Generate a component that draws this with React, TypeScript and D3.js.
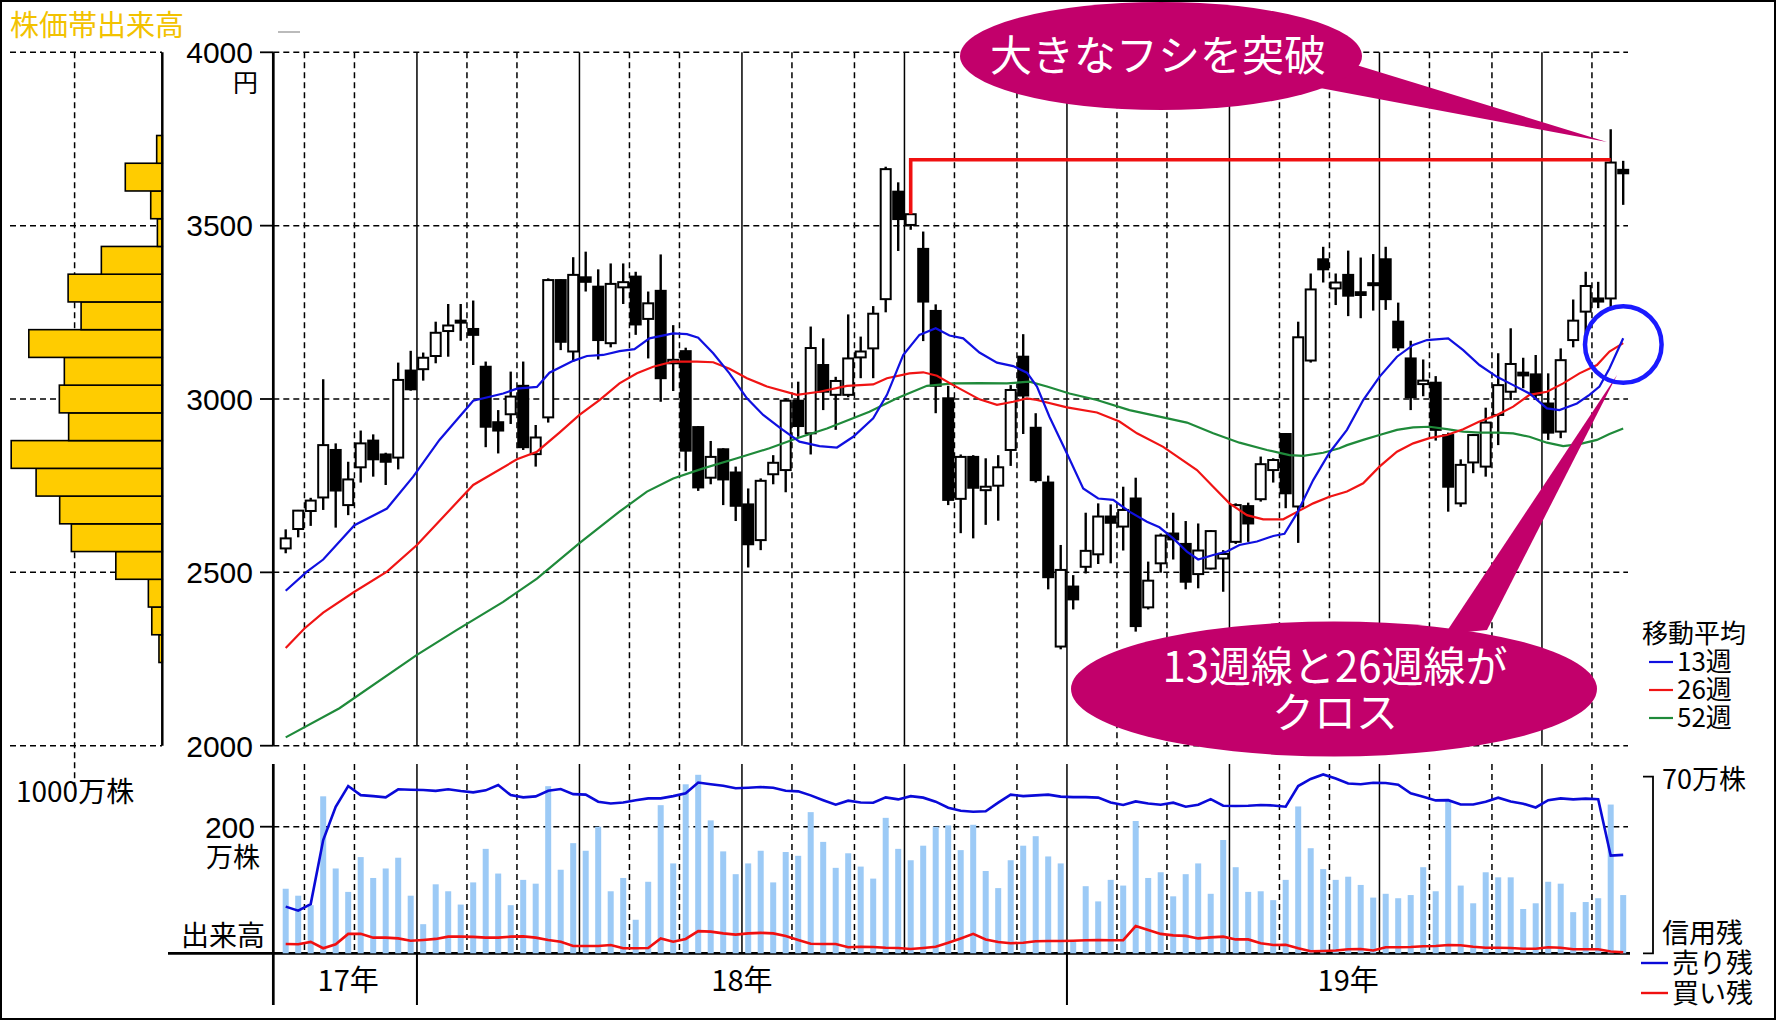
import { useRef, useEffect } from 'react';
import * as d3 from 'd3';

const W = 1776;
const H = 1020;

// weekly candles: [open, high, low, close]
const candles: [number, number, number, number][] = [
  [2569, 2624, 2555, 2598], [2625, 2680, 2601, 2678], [2677, 2715, 2634, 2707], [2716, 3057, 2680, 2867],
  [2853, 2872, 2629, 2736], [2694, 2819, 2665, 2768], [2803, 2909, 2759, 2872], [2880, 2898, 2776, 2826],
  [2840, 2845, 2752, 2819], [2831, 3105, 2797, 3055], [3082, 3139, 3024, 3028], [3086, 3134, 3053, 3119],
  [3124, 3223, 3103, 3191], [3196, 3274, 3122, 3212], [3222, 3274, 3168, 3226], [3202, 3284, 3098, 3185],
  [3093, 3108, 2861, 2920], [2933, 2968, 2843, 2909], [2956, 3079, 2928, 3007], [3038, 3108, 2853, 2861],
  [2841, 2925, 2805, 2889], [2947, 3348, 2932, 3343], [3343, 3345, 3141, 3165], [3137, 3409, 3108, 3358],
  [3351, 3425, 3310, 3338], [3324, 3374, 3114, 3170], [3161, 3391, 3149, 3332], [3322, 3391, 3274, 3337],
  [3353, 3367, 3185, 3215], [3231, 3310, 3117, 3276], [3312, 3417, 2992, 3060], [3103, 3213, 3023, 3113],
  [3138, 3148, 2792, 2851], [2919, 2922, 2735, 2745], [2773, 2879, 2754, 2833], [2855, 2858, 2694, 2768],
  [2788, 2805, 2648, 2692], [2696, 2742, 2514, 2581], [2593, 2771, 2564, 2764], [2783, 2838, 2754, 2816],
  [2795, 3002, 2731, 2995], [2995, 3050, 2891, 2922], [2901, 3209, 2840, 3147], [3098, 3175, 2968, 3021],
  [3012, 3064, 2911, 3052], [3012, 3244, 3005, 3117], [3120, 3180, 3060, 3137], [3146, 3268, 3060, 3246],
  [3288, 3670, 3250, 3663], [3598, 3625, 3427, 3519], [3502, 3690, 3488, 3533], [3433, 3483, 3167, 3281],
  [3254, 3273, 2959, 3038], [3002, 3038, 2694, 2709], [2712, 2840, 2613, 2833], [2833, 2838, 2598, 2744],
  [2737, 2829, 2637, 2747], [2750, 2838, 2649, 2803], [2853, 3040, 2807, 3026], [3122, 3187, 2899, 3010],
  [2917, 2959, 2759, 2766], [2759, 2779, 2451, 2486], [2286, 2579, 2278, 2507], [2459, 2492, 2393, 2422],
  [2516, 2672, 2497, 2562], [2552, 2699, 2524, 2661], [2661, 2696, 2526, 2643], [2632, 2747, 2563, 2680],
  [2713, 2773, 2329, 2345], [2399, 2531, 2393, 2476], [2526, 2612, 2499, 2606], [2612, 2672, 2537, 2595],
  [2582, 2648, 2451, 2473], [2495, 2641, 2454, 2563], [2511, 2622, 2508, 2619], [2540, 2564, 2444, 2553],
  [2588, 2699, 2582, 2694], [2691, 2701, 2588, 2641], [2711, 2834, 2704, 2812], [2795, 2829, 2759, 2824],
  [2899, 2902, 2685, 2728], [2690, 3223, 2585, 3178], [3111, 3362, 3105, 3316], [3403, 3439, 3336, 3374],
  [3319, 3362, 3271, 3336], [3358, 3428, 3239, 3298], [3308, 3408, 3233, 3300], [3334, 3418, 3255, 3330],
  [3403, 3439, 3257, 3288], [3223, 3278, 3139, 3149], [3117, 3168, 2968, 3005], [3043, 3114, 3008, 3053],
  [3047, 3066, 2880, 2911], [2896, 2903, 2675, 2747], [2699, 2826, 2689, 2810], [2817, 2899, 2786, 2896],
  [2805, 2975, 2776, 2932], [2954, 3132, 2867, 3040], [3021, 3204, 2997, 3101], [3076, 3119, 3031, 3068],
  [3071, 3127, 2997, 3012], [2987, 3074, 2882, 2903], [2906, 3146, 2887, 3112], [3170, 3287, 3149, 3226],
  [3252, 3367, 3161, 3326], [3290, 3338, 3262, 3281], [3290, 3778, 3257, 3682], [3661, 3687, 3560, 3651],
];

// weekly volume, 万株
const volumes = [
  102, 91, 76, 248, 134, 97, 152, 119, 134, 151, 91, 46, 109, 98, 77, 112, 165, 126, 76, 116, 110, 264, 132, 174,
  162, 200, 98, 119, 53, 113, 234, 142, 267, 282, 210, 161, 125, 142, 162, 112, 160, 154, 223, 176, 135, 158, 137, 118,
  214, 165, 147, 170, 200, 202, 163, 203, 130, 103, 147, 170, 185, 153, 142, 18, 106, 82, 116, 107, 209, 119, 128, 90,
  125, 142, 94, 179, 136, 97, 98, 84, 116, 232, 166, 133, 116, 121, 108, 88, 94, 87, 92, 136, 98, 240, 107, 79,
  128, 120, 120, 70, 79, 113, 110, 65, 81, 87, 235, 92,
];

// margin balance, 万株
const sellRemain = [
  18.5, 16.9, 19.5, 44.9, 58.1, 66.3, 62.7, 62.3, 61.8, 65, 64.8, 64.7, 64.4, 65, 64.3, 63.8, 64.6, 66.7, 62.7, 61.8,
  62.2, 64.4, 65.1, 63.1, 62.9, 60.1, 59.4, 59.8, 60.7, 61.4, 61.4, 62.3, 63.4, 67.7, 67, 66.4, 65.4, 65.6, 65.9, 65.6,
  64.4, 64.2, 62.6, 60.7, 58.9, 60.5, 59.8, 59.7, 61.8, 61, 62.3, 61.7, 60.1, 57.7, 56.5, 56.1, 56.3, 59.7, 62.9, 62.3,
  62.6, 62.9, 62.1, 61.9, 61.9, 61.7, 59.8, 58.8, 60.2, 59.4, 58.9, 59.7, 58.1, 58.9, 61.1, 58.5, 58.4, 58.5, 58.8, 58.6,
  58.1, 66.3, 69.1, 70.9, 69.3, 67.3, 67, 67.6, 67.5, 66.8, 63.4, 62.1, 60.6, 60.7, 59, 59, 60.1, 61.7, 60.2, 59.3,
  57.8, 60.7, 61.4, 61, 61.3, 61.1, 38.7, 39,
];
const buyRemain = [
  3.7, 3.6, 4.5, 2.0, 3.6, 7.7, 7.7, 6.2, 6.2, 5.9, 5.0, 5.3, 5.7, 6.6, 6.6, 6.5, 6.2, 6.2, 6.6, 6.7,
  6.2, 5.3, 4.6, 2.9, 2.9, 2.9, 3.3, 2.0, 2.0, 2.1, 5.9, 4.6, 5.7, 8.8, 8.6, 7.9, 7.4, 7.9, 8.1, 7.9,
  6.9, 5.3, 3.8, 3.7, 3.7, 2.4, 2.6, 2.5, 2.2, 2.1, 1.7, 2.1, 2.6, 4.2, 5.9, 7.7, 5.5, 4.5, 4.0, 4.2,
  4.8, 4.9, 4.9, 5.0, 5.2, 5.3, 5.2, 5.2, 10.8, 9.2, 7.7, 7.1, 6.9, 5.9, 6.3, 6.6, 5.5, 5.5, 4.0, 3.3,
  3.4, 2.0, 0.8, 0.9, 1.1, 1.6, 1.7, 1.1, 2.4, 2.4, 2.5, 2.8, 2.9, 3.3, 3.2, 2.6, 2.2, 2.2, 2.1, 1.8,
  1.8, 2.4, 2.2, 1.6, 1.6, 1.6, 0.7, 0.4,
];

// moving averages: [week, price]
const ma13: [number, number][] = [
  [0, 2447], [1.7, 2502], [3, 2537], [5.5, 2636], [8.1, 2684], [10.2, 2776], [12.3, 2882], [15, 2995], [17.4, 3016],
  [18.5, 3030], [20.1, 3035], [21.1, 3076], [23, 3110], [24.1, 3124], [25.4, 3127], [26.7, 3138], [27.9, 3144],
  [29.1, 3175], [31, 3189], [32.1, 3187], [33, 3177], [34.2, 3132], [35.5, 3074], [36.9, 3002], [38.2, 2954],
  [39.6, 2915], [41.1, 2877], [42.7, 2864], [44.1, 2860], [45.4, 2891], [47, 2944], [48.1, 3012], [49.4, 3127],
  [50.7, 3185], [52, 3204], [53.1, 3183], [54.2, 3175], [55.5, 3134], [56.9, 3105], [58.2, 3095], [59.3, 3076],
  [60.1, 3036], [61.1, 2949], [62.5, 2843], [63.8, 2742], [65, 2713], [66.2, 2709], [67.5, 2675], [68.9, 2646],
  [69.9, 2630], [71, 2598], [72.1, 2560], [73, 2537], [74.2, 2550], [75.3, 2560], [76.3, 2579], [77.7, 2589],
  [79, 2605], [79.9, 2611], [80.9, 2670], [82.2, 2766], [83.5, 2845], [84.9, 2911], [86.2, 2997], [87.5, 3064],
  [88.9, 3122], [90.2, 3156], [91.3, 3170], [93, 3175], [94.2, 3141], [95.5, 3098], [96.9, 3064], [98.2, 3040],
  [99.5, 3016], [100.9, 2973], [101.9, 2968], [103.3, 2987], [104.3, 3012], [105.1, 3036], [105.9, 3088], [107, 3175],
];
const ma26: [number, number][] = [
  [0, 2282], [1.5, 2338], [3, 2384], [5.5, 2444], [8.1, 2502], [10.5, 2579], [15, 2752], [18.5, 2826], [20.1, 2848],
  [21.9, 2903], [23.5, 2954], [25.1, 2997], [26.7, 3045], [28.1, 3074], [29.4, 3093], [31, 3108], [32.9, 3108],
  [34.2, 3106], [35.5, 3087], [36.9, 3060], [38.5, 3036], [40.9, 3012], [42.7, 3021], [44.9, 3038], [47, 3042],
  [48.1, 3060], [49.9, 3074], [51, 3077], [52.1, 3067], [53.4, 3040], [55.5, 2999], [56.9, 2983], [58.2, 2992],
  [59.3, 3002], [60.1, 2997], [62.5, 2976], [64.9, 2961], [66.7, 2935], [68.1, 2901], [70.2, 2862], [72.9, 2795],
  [74.2, 2747], [75.5, 2699], [76.9, 2665], [78.2, 2653], [79.8, 2653], [81.1, 2678], [82.2, 2699], [83.5, 2718],
  [84.9, 2733], [86.2, 2757], [87.5, 2805], [88.9, 2848], [90.2, 2872], [91.5, 2887], [92.9, 2896], [94.2, 2913],
  [95.5, 2935], [96.9, 2954], [98.2, 2978], [99.5, 3012], [100.9, 3021], [102.2, 3045], [103.5, 3074], [104.9, 3098],
  [105.9, 3137], [107, 3161],
];
const ma52: [number, number][] = [
  [0, 2024], [4.3, 2108], [10.5, 2262], [13.7, 2334], [17.4, 2415], [20.1, 2482], [23.5, 2584], [26.7, 2675],
  [28.9, 2733], [31, 2771], [33.4, 2800], [36.1, 2829], [38.7, 2858], [40.9, 2887], [43.3, 2915], [46.7, 2963],
  [48.9, 3002], [51.3, 3038], [53.4, 3045], [55.5, 3046], [57.7, 3045], [59.5, 3050], [60.9, 3036], [62.7, 3016],
  [64.9, 2997], [67.5, 2968], [69.9, 2949], [72.1, 2932], [74.2, 2901], [76.3, 2874], [78.5, 2853], [80.3, 2838],
  [81.4, 2836], [83, 2845], [84.3, 2858], [84.9, 2867], [86.2, 2882], [87.5, 2896], [88.9, 2911], [90.2, 2918],
  [91.5, 2920], [92.9, 2913], [94.2, 2906], [95.5, 2903], [96.9, 2903], [98.2, 2901], [99.5, 2891], [100.9, 2874],
  [102.2, 2864], [103.5, 2870], [104.9, 2882], [105.9, 2899], [107, 2915],
];

// price-band volume (株価帯出来高): bucket low price, 万株
const histPrices = [2240, 2320, 2400, 2480, 2560, 2640, 2720, 2800, 2880, 2960, 3040, 3120, 3200, 3280, 3360, 3440, 3520, 3600, 3680];
const histVolumes = [38, 120, 159, 530, 1037, 1170, 1439, 1723, 1068, 1174, 1117, 1522, 926, 1074, 695, 56, 132, 422, 64];
const histStep = 80;

const priceTicks = [4000, 3500, 3000, 2500, 2000];
const monthLines = [1.5, 5.5, 14.5, 18.5, 27.5, 31.5, 40.5, 45.5, 53.5, 58.5, 66.5, 70.5, 79.5, 83.5, 91.5, 96.5, 104.5];
const quarterLines = [10.5, 23.5, 36.5, 49.5, 62.5, 75.5, 87.5, 100.5];
const yearLines = [10.5, 62.5];
const yearLabels: [string, number][] = [['17年', 5], ['18年', 36.5], ['19年', 85]];
const resistance = { from: 50, to: 106, price: 3690 };

const JP = '"Noto Sans CJK JP", "Noto Sans", sans-serif';
const NUM = '"Liberation Sans", Arial, sans-serif';

export default function App() {
  const svgRef = useRef<SVGSVGElement>(null);

  useEffect(() => {
    if (!svgRef.current) return;
    const svg = d3.select(svgRef.current);
    svg.selectAll('*').remove();

    const x = d3.scaleLinear().domain([0, 107]).range([285.7, 1623.2]);
    const yP = d3.scaleLinear().domain([2000, 4000]).range([745.7, 52.3]);
    const yV = d3.scaleLinear().domain([0, 200]).range([953.3, 826.7]);
    const yM = d3.scaleLinear().domain([0, 70]).range([953.3, 776.7]);
    const xH = d3.scaleLinear().domain([0, 1000]).range([162.3, 74.6]);

    const plotL = 273.3;
    const plotR = 1628;
    const volTop = 764;

    svg.append('rect').attr('width', W).attr('height', H).attr('fill', '#fff');

    const grid = svg.append('g').attr('stroke', '#000').attr('stroke-width', 1.5);

    // price panel horizontal grid
    grid.selectAll('.hg').data(priceTicks).join('line')
      .attr('x1', plotL).attr('x2', plotR)
      .attr('y1', (d) => yP(d)).attr('y2', (d) => yP(d))
      .attr('stroke-dasharray', '6,4');
    // histogram horizontal grid
    grid.selectAll('.hh').data(priceTicks).join('line')
      .attr('x1', 10).attr('x2', 162)
      .attr('y1', (d) => yP(d)).attr('y2', (d) => yP(d))
      .attr('stroke-dasharray', '6,4');
    grid.append('line')
      .attr('x1', xH(1000)).attr('x2', xH(1000))
      .attr('y1', yP(4000)).attr('y2', 786)
      .attr('stroke-dasharray', '6,4');

    // month and quarter lines in both panels
    const panels: [number, number][] = [[yP(4000), yP(2000)], [volTop, yV(0)]];
    panels.forEach(([t, b]) => {
      grid.append('g').selectAll('line').data(monthLines).join('line')
        .attr('x1', (d) => x(d)).attr('x2', (d) => x(d))
        .attr('y1', t).attr('y2', b)
        .attr('stroke-dasharray', '6,4');
      grid.append('g').selectAll('line').data(quarterLines).join('line')
        .attr('x1', (d) => x(d)).attr('x2', (d) => x(d))
        .attr('y1', t).attr('y2', b);
    });
    grid.append('line')
      .attr('x1', plotL).attr('x2', plotR)
      .attr('y1', yV(200)).attr('y2', yV(200))
      .attr('stroke-dasharray', '6,4');

    // price-band volume histogram
    svg.append('g').selectAll('rect').data(histPrices).join('rect')
      .attr('x', (_, i) => xH(histVolumes[i]))
      .attr('width', (_, i) => xH(0) - xH(histVolumes[i]))
      .attr('y', (d) => yP(d + histStep))
      .attr('height', (d) => yP(d) - yP(d + histStep))
      .attr('fill', '#ffcc00')
      .attr('stroke', '#000')
      .attr('stroke-width', 1.6);

    // axes
    const axes = svg.append('g').attr('stroke', '#000');
    axes.append('line').attr('x1', xH(0)).attr('x2', xH(0)).attr('y1', yP(4000)).attr('y2', yP(2000)).attr('stroke-width', 2.5);
    axes.append('line').attr('x1', plotL).attr('x2', plotL).attr('y1', yP(4000)).attr('y2', yP(2000)).attr('stroke-width', 2.7);
    axes.append('line').attr('x1', plotL).attr('x2', plotL).attr('y1', volTop).attr('y2', 1005).attr('stroke-width', 2.7);
    axes.append('line').attr('x1', 168).attr('x2', 1630).attr('y1', yV(0)).attr('y2', yV(0)).attr('stroke-width', 2.7);
    axes.selectAll('.yl').data(yearLines).join('line')
      .attr('x1', (d) => x(d)).attr('x2', (d) => x(d))
      .attr('y1', yV(0)).attr('y2', 1005).attr('stroke-width', 2);
    axes.selectAll('.pt').data(priceTicks).join('line')
      .attr('x1', 260).attr('x2', plotL)
      .attr('y1', (d) => yP(d)).attr('y2', (d) => yP(d)).attr('stroke-width', 1.8);
    axes.append('line').attr('x1', 260).attr('x2', plotL).attr('y1', yV(200)).attr('y2', yV(200)).attr('stroke-width', 1.8);

    // price labels
    svg.append('g').selectAll('text').data(priceTicks).join('text')
      .attr('x', 253).attr('y', (d) => yP(d))
      .attr('dy', '0.36em')
      .attr('text-anchor', 'end')
      .attr('font-family', NUM).attr('font-size', 30)
      .text((d) => d);

    // volume bars
    svg.append('g').selectAll('rect').data(volumes).join('rect')
      .attr('x', (_, i) => x(i) - 3)
      .attr('width', 6)
      .attr('y', (d) => yV(d))
      .attr('height', (d) => yV(0) - yV(d))
      .attr('fill', '#9ccaf6');

    const lineIdx = d3.line<number>().x((_, i) => x(i)).y((d) => yM(d));
    svg.append('path').attr('d', lineIdx(sellRemain)).attr('fill', 'none').attr('stroke', '#0a0ad8').attr('stroke-width', 2.6);
    svg.append('path').attr('d', lineIdx(buyRemain)).attr('fill', 'none').attr('stroke', '#f01010').attr('stroke-width', 2.6);

    // candles
    const cg = svg.append('g');
    cg.selectAll('line').data(candles).join('line')
      .attr('x1', (_, i) => x(i)).attr('x2', (_, i) => x(i))
      .attr('y1', (d) => yP(d[1])).attr('y2', (d) => yP(d[2]))
      .attr('stroke', '#000').attr('stroke-width', 2.4);
    cg.selectAll('rect').data(candles).join('rect')
      .attr('x', (_, i) => x(i) - 5)
      .attr('width', 10)
      .attr('y', (d) => yP(Math.max(d[0], d[3])))
      .attr('height', (d) => Math.max(2, Math.abs(yP(d[0]) - yP(d[3]))))
      .attr('fill', (d) => (d[3] >= d[0] ? '#fff' : '#000'))
      .attr('stroke', '#000').attr('stroke-width', 2);

    // moving averages
    const maLine = d3.line<[number, number]>().x((d) => x(d[0])).y((d) => yP(d[1]));
    const maSeries: [[number, number][], string][] = [[ma52, '#1f8a3a'], [ma26, '#f01414'], [ma13, '#1010e0']];
    maSeries.forEach(([data, color]) => {
      svg.append('path').attr('d', maLine(data)).attr('fill', 'none').attr('stroke', color).attr('stroke-width', 2.2);
    });

    // resistance line
    const r0 = candles[resistance.from];
    svg.append('path')
      .attr('d', `M${x(resistance.from)},${yP(Math.max(r0[0], r0[3]))}V${yP(resistance.price)}H${x(resistance.to)}`)
      .attr('fill', 'none').attr('stroke', '#f01010').attr('stroke-width', 3.6);

    // multi-line text helper: one <text>, one <tspan> per row
    type Row = { s: string; x: number; y: number; size: number; fill?: string; family?: string };
    const block = (rows: Row[], anchor = 'start') => {
      const t = svg.append('text').attr('text-anchor', anchor);
      rows.forEach((r) => {
        t.append('tspan')
          .attr('x', r.x).attr('y', r.y).attr('dy', '0.36em')
          .attr('font-family', r.family ?? JP).attr('font-size', r.size)
          .attr('fill', r.fill ?? '#000').text(r.s);
      });
      return t;
    };

    // callouts
    const mag = '#c2006b';
    svg.append('path').attr('d', 'M1340,60L1607,142L1320,88Z').attr('fill', mag);
    svg.append('ellipse').attr('cx', 1161).attr('cy', 56).attr('rx', 201).attr('ry', 54).attr('fill', mag);
    block([{ s: '大きなフシを突破', x: 1158, y: 56, size: 42, fill: '#fff' }], 'middle');

    svg.append('path').attr('d', 'M1445,634L1617,375L1487,630Z').attr('fill', mag);
    svg.append('ellipse').attr('cx', 1334).attr('cy', 689).attr('rx', 263).attr('ry', 67.5).attr('fill', mag);
    block([
      { s: '13週線と26週線が', x: 1335, y: 667, size: 42, fill: '#fff' },
      { s: 'クロス', x: 1335, y: 713, size: 42, fill: '#fff' },
    ], 'middle');

    svg.append('circle').attr('cx', 1623.3).attr('cy', 344.5).attr('r', 38.3)
      .attr('fill', 'none').attr('stroke', '#1a1aff').attr('stroke-width', 4.5);

    // labels
    block([{ s: '株価帯出来高', x: 10, y: 26, size: 29, fill: '#f2c200' }]);
    block([{ s: '円', x: 258, y: 83, size: 25 }], 'end');
    block([{ s: '1000万株', x: 16, y: 792, size: 28 }]);
    block([
      { s: '200', x: 255, y: yV(200), size: 30, family: NUM },
      { s: '万株', x: 260, y: 857, size: 27 },
    ], 'end');
    block([{ s: '出来高', x: 265, y: 936, size: 28 }], 'end');
    yearLabels.forEach(([s, w]) => block([{ s, x: x(w), y: 981, size: 29 }], 'middle'));

    // legend: moving averages
    const legendMA: [string, string, number][] = [['13週', '#1010e0', 662], ['26週', '#f01414', 690], ['52週', '#1f8a3a', 718]];
    legendMA.forEach(([, c, ly]) => {
      svg.append('line').attr('x1', 1649).attr('x2', 1673).attr('y1', ly).attr('y2', ly).attr('stroke', c).attr('stroke-width', 2.2);
    });
    block([
      { s: '移動平均', x: 1642, y: 634, size: 26 },
      ...legendMA.map(([s, , ly]) => ({ s, x: 1677, y: ly, size: 26 })),
    ]);

    // legend: margin balance
    block([{ s: '70万株', x: 1662, y: 779, size: 27 }]);
    svg.append('path').attr('d', `M1643,${yM(70)}H1653V${yM(0)}H1643`).attr('fill', 'none').attr('stroke', '#000').attr('stroke-width', 1.8);
    const legendMargin: [string, string, number][] = [['売り残', '#0a0ad8', 963], ['買い残', '#f01010', 993]];
    legendMargin.forEach(([, c, ly]) => {
      svg.append('line').attr('x1', 1641).attr('x2', 1668).attr('y1', ly).attr('y2', ly).attr('stroke', c).attr('stroke-width', 2.4);
    });
    block([
      { s: '信用残', x: 1662, y: 933, size: 27 },
      ...legendMargin.map(([s, , ly]) => ({ s, x: 1672, y: ly, size: 27 })),
    ]);

    svg.append('line').attr('x1', 278).attr('x2', 300).attr('y1', 32).attr('y2', 32).attr('stroke', '#bbb').attr('stroke-width', 2);

    // outer frame
    svg.append('rect').attr('x', 1).attr('y', 1).attr('width', W - 2).attr('height', H - 2)
      .attr('fill', 'none').attr('stroke', '#000').attr('stroke-width', 2);
  }, []);

  return (
    <svg
      ref={svgRef}
      width={W}
      height={H}
      viewBox={`0 0 ${W} ${H}`}
      style={{ position: 'absolute', left: 0, top: 0 }}
    />
  );
}
